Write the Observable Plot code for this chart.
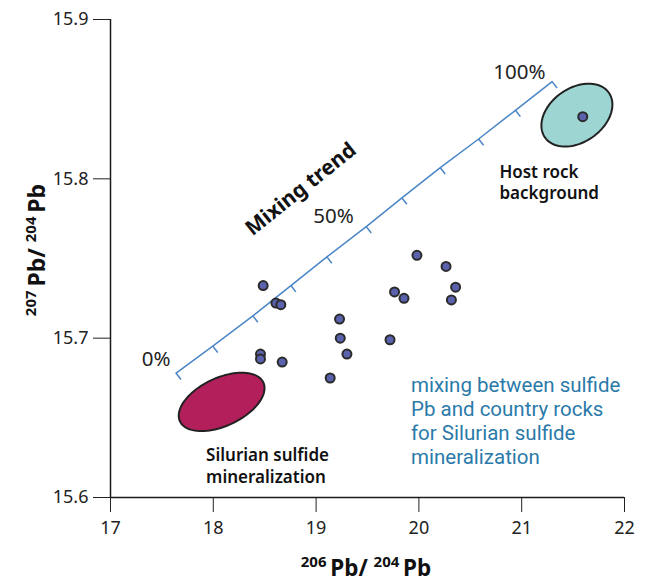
<!DOCTYPE html>
<html><head><meta charset="utf-8">
<script src="https://cdn.jsdelivr.net/npm/d3@7"></script>
<script src="https://cdn.jsdelivr.net/npm/@observablehq/plot@0.6"></script>
<style>body{margin:0;background:#fff;} #chart svg{display:block;}</style>
</head><body><div id="chart"></div>
<script>
// ---- data ----
const sampleX = [18.485, 18.609, 18.657, 18.459, 18.459, 18.670, 19.228, 19.235, 19.300, 19.137, 19.719, 19.981, 20.264, 20.357, 20.316, 19.763, 19.855];
const sampleY = [15.733, 15.722, 15.721, 15.690, 15.687, 15.685, 15.712, 15.700, 15.690, 15.675, 15.699, 15.752, 15.745, 15.732, 15.724, 15.729, 15.725];
const hostX = [21.594];
const hostY = [15.839];
const fieldNames = ["Silurian sulfide mineralization", "Host rock background"];
const fieldX = [18.081, 21.537];
const fieldY = [15.660, 15.840];
const mixPct = [0, 10, 20, 30, 40, 50, 60, 70, 80, 90, 100];
const mixX = [17.638, 17.995, 18.385, 18.755, 19.105, 19.488, 19.835, 20.208, 20.581, 20.939, 21.296];
const mixY = [15.678, 15.695, 15.714, 15.733, 15.751, 15.770, 15.788, 15.807, 15.825, 15.843, 15.861];
const xTicks = [17, 18, 19, 20, 21, 22];
const yTicks = [15.6, 15.7, 15.8, 15.9];
const pctLabels = ["0%", "50%", "100%"];
const pctLabelX = [17.443, 19.169, 20.978];
const pctLabelY = [15.6865, 15.7766, 15.8668];

// ---- tables ----
const samples = sampleX.map((x, i) => ({x, y: sampleY[i]}));
const host = hostX.map((x, i) => ({x, y: hostY[i]}));
const fields = fieldNames.map((name, i) => ({name, x: fieldX[i], y: fieldY[i]}));
const mix = mixPct.map((p, i) => ({p, x: mixX[i], y: mixY[i]}));
const pcts = pctLabels.map((t, i) => ({t, x: pctLabelX[i], y: pctLabelY[i]}));

// ---- custom symbols ----
function ellipseSymbol(a, b, deg) {
  const phi = -deg * Math.PI / 180;
  return {draw(ctx) {
    const n = 96;
    for (let i = 0; i <= n; i++) {
      const t = 2 * Math.PI * i / n;
      const px = a * Math.cos(t), py = b * Math.sin(t);
      const X = px * Math.cos(phi) - py * Math.sin(phi);
      const Y = px * Math.sin(phi) + py * Math.cos(phi);
      i ? ctx.lineTo(X, Y) : ctx.moveTo(X, Y);
    }
    ctx.closePath();
  }};
}
const tickSymbol = {draw(ctx) {
  const L = 8, ang = 38 * Math.PI / 180;
  ctx.moveTo(0, 0);
  ctx.lineTo(L * Math.sin(ang), L * Math.cos(ang));
}};

const FONT = "Noto Sans";
const chart = Plot.plot({
  width: 649,
  height: 583,
  marginLeft: 110,
  marginRight: 25,
  marginTop: 19,
  marginBottom: 86,
  style: {fontFamily: FONT, fontSize: "18px", color: "#222", background: "#fff"},
  x: {domain: [17, 22], ticks: xTicks, tickSize: 15, tickPadding: 9, label: null, tickFormat: d => String(d)},
  y: {domain: [15.6, 15.9], ticks: yTicks, tickSize: 17, tickPadding: 5, label: null, tickFormat: d => d.toFixed(1)},
  marks: [
    Plot.ruleX([17], {stroke: "#1a1a1a", strokeWidth: 1.5}),
    Plot.ruleY([15.6], {stroke: "#1a1a1a", strokeWidth: 1.5}),
    Plot.dot(fields.slice(0, 1), {x: "x", y: "y", symbol: ellipseSymbol(46, 24, 25), fill: "#b21f5b", stroke: "#222", strokeWidth: 2}),
    Plot.dot(fields.slice(1, 2), {x: "x", y: "y", symbol: ellipseSymbol(39, 27, 35), fill: "#9dd5d3", stroke: "#222", strokeWidth: 2}),
    Plot.line(mix, {x: "x", y: "y", stroke: "#4a86c6", strokeWidth: 1.5}),
    Plot.dot(mix, {x: "x", y: "y", symbol: tickSymbol, fill: "none", stroke: "#4a86c6", strokeWidth: 1.5}),
    Plot.dot(samples, {x: "x", y: "y", r: 4.5, fill: "#5b62ad", stroke: "#2b2b2b", strokeWidth: 2}),
    Plot.dot(host, {x: "x", y: "y", r: 4.5, fill: "#5b62ad", stroke: "#2b2b2b", strokeWidth: 2}),
    Plot.text(pcts, {x: "x", y: "y", text: "t", fontSize: 20.5, fill: "#222", textAnchor: "middle"}),
    Plot.text(["Mixing trend"], {x: [18.852], y: [15.7935], rotate: -38.6, fontSize: 21, fontWeight: "bold", fill: "#111", textAnchor: "middle"}),
    Plot.text(["Host rock\nbackground"], {x: [20.783], y: [15.8097], fontSize: 17, fontWeight: 600, fill: "#111", textAnchor: "start", lineAnchor: "top", lineHeight: 1.24}),
    Plot.text(["Silurian sulfide\nmineralization"], {x: [17.93], y: [15.6329], fontSize: 17, fontWeight: 600, fill: "#111", textAnchor: "start", lineAnchor: "top", lineHeight: 1.3}),
    Plot.text(["mixing between sulfide\nPb and country rocks\nfor Silurian sulfide\nmineralization"], {x: [19.923], y: [15.6768], fontFamily: "Roboto", fontSize: 20.5, fill: "#2b7aa9", textAnchor: "start", lineAnchor: "top", lineHeight: 1.17})
  ]
});
document.getElementById("chart").appendChild(chart);

// axis titles with superscripts
const svg = d3.select(chart);
const xl = svg.append("text").attr("x", 366).attr("y", 576).attr("text-anchor", "middle")
  .attr("font-family", FONT).attr("font-weight", "bold").attr("fill", "#111").attr("font-size", 22.5);
xl.append("tspan").attr("font-size", 15).attr("baseline-shift", "60%").text("206");
xl.append("tspan").text("\u2009Pb/ ");
xl.append("tspan").attr("font-size", 15).attr("baseline-shift", "60%").text("204");
xl.append("tspan").text("\u2009Pb");

const yl = svg.append("text").attr("transform", "translate(45,250) rotate(-90)").attr("text-anchor", "middle")
  .attr("font-family", FONT).attr("font-weight", "bold").attr("fill", "#111").attr("font-size", 23);
yl.append("tspan").attr("font-size", 15).attr("baseline-shift", "60%").text("207");
yl.append("tspan").text("\u2009Pb/ ");
yl.append("tspan").attr("font-size", 15).attr("baseline-shift", "60%").text("204");
yl.append("tspan").text("\u2009Pb");
</script>
</body></html>
